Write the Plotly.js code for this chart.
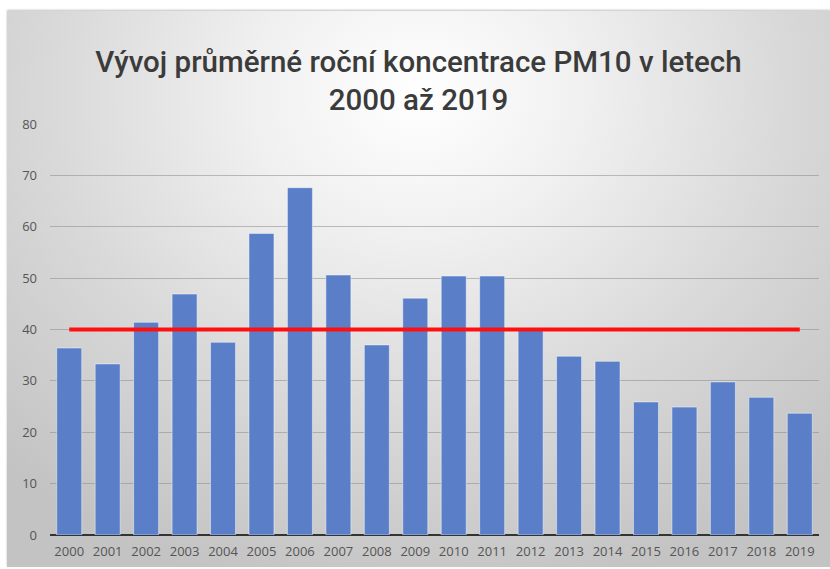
<!DOCTYPE html>
<html>
<head>
<meta charset="utf-8">
<script src="https://cdn.plot.ly/plotly-3.0.1.min.js"></script>
<style>
  html, body { margin: 0; padding: 0; background: #ffffff; width: 830px; height: 569px; overflow: hidden; }
  #frame {
    position: absolute; left: 7px; top: 11px; width: 823px; height: 556px;
    background: radial-gradient(ellipse 72% 92% at 50% 15%, #ffffff 0%, #f0f0f0 28%, #d9d9d9 62%, #c3c3c3 100%);
    box-shadow: 0 -1px 2px rgba(0,0,0,0.25);
  }
  #chart { position: absolute; left: 0; top: 0; width: 823px; height: 556px; }
</style>
</head>
<body>
<div id="frame"><div id="chart"></div></div>
<script>
const years = ["2000","2001","2002","2003","2004","2005","2006","2007","2008","2009",
               "2010","2011","2012","2013","2014","2015","2016","2017","2018","2019"];
const pm10 = [36.4, 33.3, 41.4, 46.9, 37.5, 58.7, 67.6, 50.6, 37.0, 46.1,
              50.4, 50.4, 40.0, 34.8, 33.8, 25.9, 24.9, 29.8, 26.8, 23.7];
const limit = [40, 40, 40, 40, 40, 40, 40, 40, 40, 40,
               40, 40, 40, 40, 40, 40, 40, 40, 40, 40];
const titleText = "Vývoj průměrné roční koncentrace PM10 v letech<br>2000 až 2019";

const traces = [
  {
    type: "bar", x: years, y: pm10,
    marker: { color: "#5a7fc8", line: { color: "rgba(255,255,255,0.45)", width: 1 } },
    hoverinfo: "x+y"
  },
  {
    type: "scatter", mode: "lines", x: years, y: limit,
    line: { color: "#ff1010", width: 4 },
    hoverinfo: "y"
  }
];

const layout = {
  width: 823, height: 556,
  paper_bgcolor: "rgba(0,0,0,0)", plot_bgcolor: "rgba(0,0,0,0)",
  margin: { l: 43, r: 11, t: 113, b: 32 },
  showlegend: false,
  bargap: 0.35,
  title: {
    text: titleText,
    font: { family: "Roboto, 'Open Sans', sans-serif", size: 29.5, color: "#3b3b3b", weight: 500 },
    x: 0.5, xanchor: "center", xref: "container",
    y: 1 - 61 / 556, yanchor: "top", yref: "container"
  },
  xaxis: {
    type: "category",
    showgrid: false, zeroline: false,
    showline: false, ticks: "",
    tickfont: { family: "'Open Sans', sans-serif", size: 13, color: "#555555" },
    ticklabelstandoff: 7
  },
  yaxis: {
    range: [0, 80], dtick: 10, tick0: 0,
    showgrid: true, gridcolor: "rgba(140,140,140,0.55)", gridwidth: 1,
    zeroline: true, zerolinecolor: "#333333", zerolinewidth: 2,
    showline: false, ticks: "",
    tickfont: { family: "'Open Sans', sans-serif", size: 13, color: "#555555" },
    ticklabelstandoff: 12
  },
  font: { family: "'Open Sans', sans-serif" }
};

Plotly.newPlot("chart", traces, layout, { displayModeBar: false, staticPlot: true });
</script>
</body>
</html>
